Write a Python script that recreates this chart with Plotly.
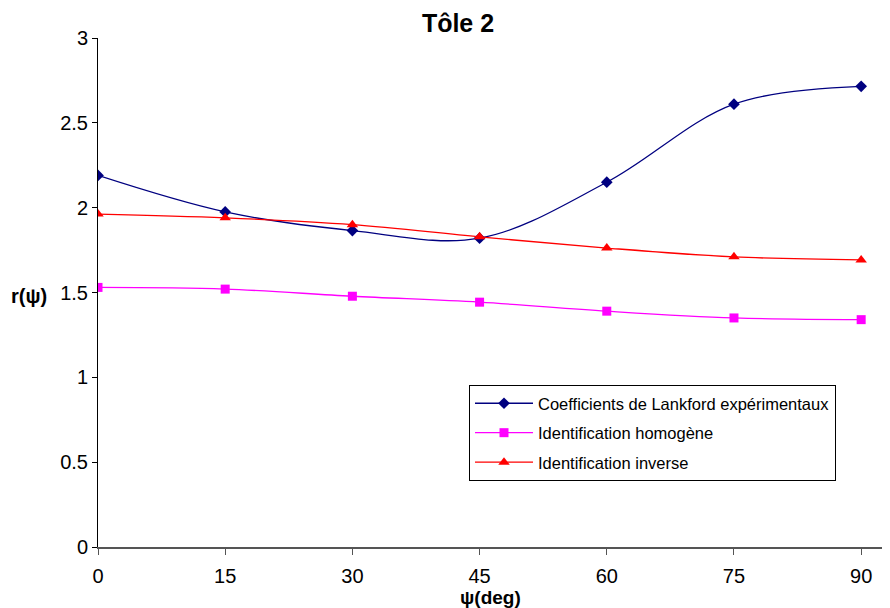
import plotly.graph_objects as go

psi = [0, 15, 30, 45, 60, 75, 90]
lankford = [2.19, 1.975, 1.865, 1.82, 2.15, 2.61, 2.715]
homogene = [1.53, 1.52, 1.478, 1.443, 1.39, 1.35, 1.34]
inverse = [1.962, 1.94, 1.9, 1.828, 1.762, 1.71, 1.692]
names = ["Coefficients de Lankford expérimentaux", "Identification homogène", "Identification inverse"]
y_ticks = [0, 0.5, 1, 1.5, 2, 2.5, 3]
x_ticks = [0, 15, 30, 45, 60, 75, 90]

FONT = "Liberation Sans, Arial, sans-serif"
NARROW = "Liberation Sans Narrow, Liberation Sans, Arial, sans-serif"

# page has an 8px body margin: figure is 882x600 so it ends at the window edge
W, H = 882, 600
L, R, T, B = 90, 0, 30, 61
PW = W - L - R
PH = H - T - B


def px_x(x):  # window pixel -> paper x
    return (x - 8 - L) / PW


def px_y(y):  # window pixel -> paper y
    return 1 - (y - 8 - T) / PH


fig = go.Figure()
fig.add_trace(go.Scatter(x=psi, y=lankford, name=names[0], mode="lines+markers", legendgroup="a",
                         line=dict(color="#000080", width=1.3, shape="spline", smoothing=1),
                         marker=dict(symbol="diamond", size=9, color="#000080")))
fig.add_trace(go.Scatter(x=psi, y=homogene, name=names[1], mode="lines+markers", legendgroup="b",
                         line=dict(color="#FF00FF", width=1.3, shape="spline", smoothing=1),
                         marker=dict(symbol="square", size=9, color="#FF00FF")))
fig.add_trace(go.Scatter(x=psi, y=inverse, name=names[2], mode="lines+markers", legendgroup="c",
                         line=dict(color="#FF0000", width=1.3, shape="spline", smoothing=1),
                         marker=dict(symbol="triangle-up", size=10, color="#FF0000")))

fig.update_layout(
    width=W, height=H,
    margin=dict(l=L, r=R, t=T, b=B),
    paper_bgcolor="white", plot_bgcolor="white",
    font=dict(family=FONT, size=16, color="black"),
    title=dict(text="<b>Tôle 2</b>", x=(458 - 8) / W, xanchor="center", y=1 - (14 - 8) / H,
               yanchor="top", yref="container", font=dict(size=25, family=FONT, color="black")),
    xaxis=dict(range=[0, 93.4], tickvals=x_ticks, ticktext=[str(v) for v in x_ticks],
               showline=True, linecolor="#555555", linewidth=2, ticks="outside", ticklen=6,
               tickcolor="#555555", showgrid=False, zeroline=False, ticklabelstandoff=4,
               tickfont=dict(size=20, family=NARROW)),
    yaxis=dict(range=[0, 3], tickvals=y_ticks, ticktext=[f"{v:g}" for v in y_ticks],
               showline=True, linecolor="black", linewidth=1, ticks="outside", ticklen=5,
               tickcolor="black", showgrid=False, zeroline=False,
               tickfont=dict(size=20, family=FONT)),
    legend=dict(x=px_x(469), y=px_y(385), xanchor="left", yanchor="top",
                bordercolor="black", borderwidth=1, bgcolor="white",
                font=dict(size=16.5, family=FONT), tracegroupgap=5, itemwidth=58),
    showlegend=True,
)

fig.add_annotation(text="<b>r(ψ)</b>", xref="paper", yref="paper",
                   x=px_x(9), y=px_y(296), xanchor="left", yanchor="middle",
                   showarrow=False, font=dict(size=20, family=FONT))
fig.add_annotation(text="<b>ψ(deg)</b>", xref="paper", yref="paper",
                   x=px_x(490), y=px_y(597), xanchor="center", yanchor="middle",
                   showarrow=False, font=dict(size=19, family=NARROW))

fig.write_html("out.html")
